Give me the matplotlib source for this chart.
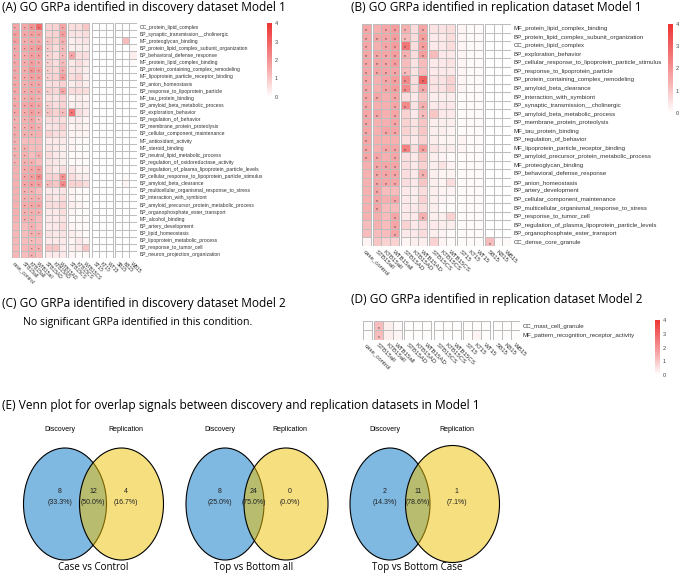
"""GO GRPa heatmaps (discovery / replication) + Venn overlap panels."""

import numpy as np
import matplotlib
matplotlib.use("Agg")
import matplotlib.pyplot as plt
from matplotlib.colors import LinearSegmentedColormap, Normalize
from matplotlib.cm import ScalarMappable
from matplotlib.patches import Ellipse

plt.rcParams["font.family"] = ["Liberation Sans", "DejaVu Sans"]

W, H = 679, 576
TITLE_FONT = ["Open Sans", "DejaVu Sans"]
CMAP = LinearSegmentedColormap.from_list(
    "wr", [(0, "#FFFFFF"), (0.35, "#F7B0B0"), (1, "#EE3333")])
GRID = "#BDBDBD"

# ---- data ----
COLS = ["case_control", "STB15all", "KTB15all", "WTB15all", "STB15AD", "KTB15AD",
        "WTB15AD", "STB15CS", "KTB15CS", "WTB15CS", "ST15", "KT15", "WT15",
        "SB15", "KB15", "WB15"]
GROUPS = [1, 3, 3, 3, 3, 3]

A_ROWS = [
    "CC_protein_lipid_complex", "BP_synaptic_transmission__cholinergic",
    "MF_proteoglycan_binding", "BP_protein_lipid_complex_subunit_organization",
    "BP_behavioral_defense_response", "MF_protein_lipid_complex_binding",
    "BP_protein_containing_complex_remodeling", "MF_lipoprotein_particle_receptor_binding",
    "BP_anion_homeostasis", "BP_response_to_lipoprotein_particle",
    "MF_tau_protein_binding", "BP_amyloid_beta_metabolic_process",
    "BP_exploration_behavior", "BP_regulation_of_behavior",
    "BP_membrane_protein_proteolysis", "BP_cellular_component_maintenance",
    "MF_antioxidant_activity", "MF_steroid_binding",
    "BP_neutral_lipid_metabolic_process", "BP_regulation_of_oxidoreductase_activity",
    "BP_regulation_of_plasma_lipoprotein_particle_levels",
    "BP_cellular_response_to_lipoprotein_particle_stimulus",
    "BP_amyloid_beta_clearance", "BP_multicellular_organismal_response_to_stress",
    "BP_interaction_with_symbiont", "BP_amyloid_precursor_protein_metabolic_process",
    "BP_organophosphate_ester_transport", "MF_alcohol_binding",
    "BP_artery_development", "BP_lipid_homeostasis",
    "BP_lipoprotein_metabolic_process", "BP_response_to_tumor_cell",
    "BP_neuron_projection_organization",
]
A_VALS = [
    [1.6, 1.6, 2.0, 2.8, 0.8, 0.8, 1.6, 0.6, 0.6, 1.0, 0, 0, 0, 0, 0, 0],
    [1.8, 1.6, 1.8, 1.8, 0.8, 0.8, 1.8, 0.5, 0.5, 0.6, 0, 0, 0, 0, 0, 0],
    [1.8, 1.5, 1.6, 1.6, 1.0, 0.8, 1.4, 0.3, 0.4, 0.5, 0, 0, 0, 0, 1.2, 0],
    [1.6, 1.6, 1.8, 2.0, 0.9, 0.6, 1.2, 0.3, 0.3, 0.3, 0, 0, 0, 0, 0, 0.1],
    [1.6, 1.5, 1.8, 1.8, 0.8, 0.6, 1.2, 1.6, 0.6, 0.6, 0, 0, 0, 0, 0, 0.3],
    [1.6, 1.5, 1.8, 1.6, 0.8, 0.6, 1.2, 0.4, 0.6, 0.4, 0, 0, 0, 0, 0, 0.1],
    [1.6, 1.5, 2.0, 1.8, 0.8, 0.7, 1.4, 0.5, 0.5, 0.3, 0, 0, 0, 0, 0, 0],
    [1.6, 1.5, 1.8, 1.8, 0.8, 0.8, 1.8, 0.6, 0.8, 0.3, 0, 0, 0, 0, 0, 0],
    [1.6, 1.4, 1.6, 1.6, 0.6, 0.6, 0.8, 0.3, 0.5, 0.3, 0, 0, 0, 0, 0, 0],
    [1.6, 1.5, 1.6, 1.6, 0.8, 0.7, 1.6, 0.6, 0.6, 0.6, 0, 0, 0, 0, 0, 0],
    [1.5, 1.4, 1.6, 1.4, 0.6, 0.5, 0.8, 0.2, 0.3, 0.2, 0, 0, 0, 0, 0, 0],
    [1.6, 1.6, 1.8, 1.6, 0.8, 0.6, 0.8, 0.3, 0.3, 0.3, 0, 0, 0, 0, 0, 0],
    [1.6, 1.5, 1.8, 1.6, 1.0, 0.8, 1.2, 2.6, 0.6, 0.4, 0, 0, 0, 0, 0, 0],
    [1.4, 1.4, 1.6, 1.2, 0.6, 0.6, 0.6, 0.3, 0.3, 0.2, 0, 0, 0, 0, 0, 0],
    [1.5, 1.4, 1.6, 1.4, 0.5, 0.5, 0.8, 0.2, 0.3, 0.2, 0, 0, 0, 0, 0, 0],
    [1.5, 1.4, 1.4, 1.4, 0.8, 0.6, 0.6, 0.2, 0.2, 0.2, 0, 0, 0, 0, 0, 0],
    [1.4, 1.2, 1.2, 1.2, 0.4, 0.4, 0.4, 0.2, 0.1, 0.1, 0, 0, 0, 0, 0, 0],
    [1.4, 1.4, 1.2, 1.2, 0.5, 0.4, 0.3, 0.2, 0.1, 0.1, 0, 0, 0, 0, 0, 0],
    [1.4, 1.4, 1.2, 1.4, 0.6, 0.4, 0.3, 0.1, 0.1, 0.1, 0, 0, 0, 0, 0, 0],
    [1.4, 1.4, 1.4, 1.2, 0.5, 0.4, 0.3, 0.1, 0.1, 0.1, 0, 0, 0, 0, 0, 0],
    [1.4, 1.5, 1.6, 1.8, 0.6, 0.4, 0.6, 0.4, 0.2, 0.2, 0, 0, 0, 0, 0, 0],
    [1.4, 1.6, 1.8, 2.2, 0.8, 0.8, 2.0, 0.6, 0.4, 0.3, 0, 0, 0, 0, 0.1, 0],
    [1.4, 1.6, 1.8, 1.8, 1.2, 1.0, 2.2, 0.8, 0.8, 0.6, 0, 0, 0, 0, 0.2, 0],
    [1.4, 1.4, 1.4, 1.2, 0.4, 0.4, 0.5, 0.2, 0.1, 0.1, 0, 0, 0, 0, 0, 0],
    [1.4, 1.4, 1.4, 1.4, 0.6, 0.4, 0.6, 0.2, 0.1, 0.1, 0, 0, 0, 0, 0, 0],
    [1.4, 1.5, 1.6, 1.6, 0.6, 0.6, 0.8, 0.3, 0.2, 0.1, 0, 0, 0, 0, 0, 0],
    [1.4, 1.4, 1.4, 1.4, 0.4, 0.4, 0.6, 0.2, 0.1, 0.1, 0, 0, 0, 0, 0, 0],
    [1.4, 1.4, 1.4, 1.2, 0.4, 0.4, 0.5, 0.1, 0.1, 0.1, 0, 0, 0, 0, 0, 0],
    [1.3, 1.2, 1.4, 1.2, 0.4, 0.4, 0.6, 0.2, 0.1, 0.1, 0, 0, 0, 0, 0, 0],
    [1.3, 1.2, 1.4, 1.4, 0.5, 0.4, 0.5, 0.3, 0.2, 0.1, 0, 0, 0, 0, 0, 0],
    [1.3, 1.2, 1.2, 1.2, 0.4, 0.4, 0.4, 0.2, 0.4, 0.2, 0, 0, 0, 0, 0, 0],
    [1.3, 1.3, 1.4, 1.4, 1.0, 1.0, 0.4, 0.3, 0.4, 1.0, 0, 0, 0, 0, 0, 0],
    [1.3, 1.2, 1.4, 1.2, 0.4, 0.4, 0.4, 0.2, 0.1, 0.1, 0, 0, 0, 0, 0, 0],
]
# '*' marks significant cells, one char per column (short strings = rest blank)
A_STARS = [
    "****..*", "****..*", "*****.*", "*****.*", "*****.**", "*****.*",
    "*****.*", "*****.*", "****", "*****.*", "****", "*****", "*****.**",
    "****", "****", "***", "*", "**", "**.*", "***", ".***", ".***..*",
    ".****.*", ".**", ".***", ".***", ".***", ".**", "..*", "..**", "..*",
    "..**", "..*",
]

B_ROWS = [
    "MF_protein_lipid_complex_binding", "BP_protein_lipid_complex_subunit_organization",
    "CC_protein_lipid_complex", "BP_exploration_behavior",
    "BP_cellular_response_to_lipoprotein_particle_stimulus",
    "BP_response_to_lipoprotein_particle", "BP_protein_containing_complex_remodeling",
    "BP_amyloid_beta_clearance", "BP_interaction_with_symbiont",
    "BP_synaptic_transmission__cholinergic", "BP_amyloid_beta_metabolic_process",
    "BP_membrane_protein_proteolysis", "MF_tau_protein_binding",
    "BP_regulation_of_behavior", "MF_lipoprotein_particle_receptor_binding",
    "BP_amyloid_precursor_protein_metabolic_process", "MF_proteoglycan_binding",
    "BP_behavioral_defense_response", "BP_anion_homeostasis",
    "BP_artery_development", "BP_cellular_component_maintenance",
    "BP_multicellular_organismal_response_to_stress", "BP_response_to_tumor_cell",
    "BP_regulation_of_plasma_lipoprotein_particle_levels",
    "BP_organophosphate_ester_transport", "CC_dense_core_granule",
]
B_VALS = [
    [1.6, 1.4, 1.6, 1.8, 1.4, 0.6, 1.6, 0.5, 0.5, 0.6, 0.2, 0.1, 0.1, 0, 0, 0],
    [1.6, 1.6, 1.6, 1.8, 1.2, 0.6, 1.8, 0.4, 0.4, 0.6, 0.2, 0.1, 0.1, 0, 0, 0],
    [1.6, 1.4, 1.6, 1.8, 2.6, 0.6, 1.8, 0.4, 0.4, 0.6, 0.2, 0.1, 0.1, 0, 0, 0],
    [1.6, 1.6, 1.6, 1.8, 1.4, 0.6, 1.8, 1.2, 0.4, 0.4, 0.2, 0.1, 0.1, 0, 0, 0],
    [1.6, 1.6, 1.6, 1.8, 1.2, 0.5, 1.2, 0.4, 0.4, 0.5, 0.2, 0.1, 0.1, 0, 0, 0],
    [1.6, 1.6, 1.6, 1.6, 1.2, 0.5, 1.2, 0.4, 0.4, 0.4, 0.2, 0.1, 0.1, 0, 0, 0],
    [1.6, 1.4, 1.6, 1.8, 2.2, 0.6, 3.0, 0.5, 0.5, 0.8, 0.2, 0.1, 0.1, 0, 0, 0],
    [1.6, 1.4, 1.6, 1.8, 2.2, 0.6, 1.6, 0.5, 0.5, 0.8, 0.2, 0.1, 0.1, 0, 0, 0],
    [1.6, 1.6, 1.4, 1.6, 0.6, 0.4, 1.0, 0.3, 0.3, 0.3, 0.1, 0.1, 0.1, 0, 0, 0],
    [1.6, 1.4, 1.4, 1.6, 2.2, 0.5, 1.4, 0.4, 0.4, 0.4, 0.1, 0.1, 0.1, 0, 0, 0],
    [1.6, 1.6, 1.4, 1.6, 0.8, 0.4, 1.2, 1.0, 0.4, 0.4, 0.1, 0.1, 0.1, 0, 0, 0],
    [1.6, 1.4, 1.4, 1.6, 0.8, 0.5, 1.0, 0.3, 0.3, 0.3, 0.1, 0.1, 0.1, 0, 0, 0],
    [1.6, 1.4, 1.6, 1.6, 0.8, 0.5, 1.0, 0.3, 0.3, 0.2, 0.1, 0.1, 0.1, 0, 0, 0],
    [1.6, 1.4, 1.4, 1.4, 0.6, 0.4, 0.8, 0.3, 0.2, 0.2, 0.2, 0.1, 0.1, 0, 0, 0],
    [1.6, 1.4, 1.6, 1.6, 2.4, 0.6, 1.8, 0.5, 0.3, 0.3, 0.2, 0.1, 0.1, 0, 0, 0],
    [1.6, 1.6, 1.4, 1.6, 0.6, 0.4, 1.0, 0.3, 0.2, 0.1, 0.1, 0.1, 0.1, 0, 0, 0],
    [1.4, 1.6, 1.6, 1.6, 0.6, 0.4, 0.8, 0.3, 0.5, 0.2, 0.1, 0.1, 0.1, 0, 0, 0],
    [1.4, 1.6, 1.6, 1.6, 0.6, 0.4, 1.4, 0.3, 0.2, 0.2, 0.1, 0.1, 0.1, 0, 0, 0],
    [1.4, 1.6, 1.6, 1.6, 0.6, 0.4, 1.0, 0.3, 0.2, 0.6, 0.1, 0.1, 0.1, 0, 0, 0],
    [1.4, 1.6, 1.2, 1.2, 0.4, 0.3, 0.6, 0.3, 0.2, 0.2, 0.1, 0.1, 0.1, 0, 0, 0],
    [1.4, 1.6, 1.4, 1.6, 0.4, 0.3, 0.8, 0.3, 0.2, 0.1, 0.1, 0.1, 0.1, 0, 0, 0],
    [1.4, 1.6, 1.2, 1.2, 0.4, 0.4, 0.6, 0.3, 0.1, 0.1, 0.1, 0.1, 0.1, 0, 0, 0],
    [1.4, 1.4, 1.2, 1.6, 0.4, 0.4, 1.4, 0.3, 0.3, 0.8, 0.1, 0.1, 0.1, 0, 0, 0],
    [1.2, 1.4, 1.2, 1.6, 0.8, 0.4, 0.6, 0.4, 0.3, 0.3, 0.1, 0.1, 0.1, 0, 0, 0],
    [1.2, 1.2, 1.2, 1.6, 0.4, 0.4, 0.6, 0.3, 0.2, 0.1, 0.1, 0.1, 0.1, 0, 0, 0],
    [0.2, 1.0, 0.8, 0.8, 0.2, 0.3, 0.3, 0.8, 0.2, 0.1, 0.1, 0.1, 0.1, 1.2, 0.1, 0.1],
]
B_STARS = [
    "*.***.*", "*****.*", "*.***.*", "*****.*", "****", "*****", "*.***.*",
    "*.***.*", "**.*", "*..**.*", "**.*..*", "*..*", "*.**", "*", "*.***.*",
    "**.*", ".***", ".***..*", ".***", ".*", ".*.*", ".*", "...*..*", "...*",
    "...*", ".............*",
]

D_ROWS = ["CC_mast_cell_granule", "MF_pattern_recognition_receptor_activity"]
D_VALS = [
    [0.05, 1.2, 0.3, 0.1, 0.05, 0.05, 0.05, 0.05, 0.05, 0.05, 0.05, 0.05, 0.05, 0.05, 0.05, 0.05],
    [0.05, 1.2, 0.3, 0.2, 0.05, 0.05, 0.05, 0.05, 0.05, 0.05, 0.05, 0.2, 0.05, 0.05, 0.05, 0.05],
]
D_STARS = [".*", ".*"]

VENN_NAMES = ["Case vs Control", "Top vs Bottom all", "Top vs Bottom Case"]
DISC_ONLY = [8, 8, 2]
SHARED = [12, 24, 11]
REP_ONLY = [4, 0, 1]


def px_box(x0, y0, x1, y1):
    return [x0 / W, 1 - y1 / H, (x1 - x0) / W, (y1 - y0) / H]


def heat(ax, rows, vals, stars, gap, fs):
    vals = np.asarray(vals, float)
    nr = len(rows)
    grp = np.repeat(np.arange(len(GROUPS)), GROUPS)
    left = np.arange(len(COLS)) + grp * gap
    start = 0
    for g, n in enumerate(GROUPS):
        xe = np.arange(start, start + n + 1) + g * gap
        ax.pcolormesh(xe, np.arange(nr + 1), vals[:, start:start + n], cmap=CMAP,
                      vmin=0, vmax=4, edgecolors=GRID, linewidth=0.6)
        start += n
    for i, s in enumerate(stars):
        for j, c in enumerate(s):
            if c == "*":
                ax.text(left[j] + 0.5, i + 0.78, "*", ha="center", va="center",
                        fontsize=fs * 0.8, color="#333333")
    ax.set_xlim(0, left[-1] + 1)
    ax.set_ylim(nr, 0)
    ax.set_xticks(left + 0.5)
    ax.set_xticklabels(COLS, rotation=-45, ha="left", va="top",
                       rotation_mode="anchor", fontsize=fs)
    ax.set_yticks(np.arange(nr) + 0.5)
    ax.set_yticklabels(rows, fontsize=fs)
    ax.yaxis.tick_right()
    ax.tick_params(length=0, pad=2, colors="#333333")
    for sp in ax.spines.values():
        sp.set_visible(False)


def cbar(box):
    cax = fig.add_axes(px_box(*box))
    cb = fig.colorbar(ScalarMappable(Normalize(0, 4), CMAP), cax=cax)
    cb.outline.set_visible(False)
    cb.set_ticks([0, 1, 2, 3, 4])
    cax.tick_params(length=0, labelsize=4, colors="#444444", pad=2)


fig = plt.figure(figsize=(W / 100, H / 100), dpi=100)

# titles
TS = 8.6
fig.text(2 / W, 1 - 8 / H, "(A) GO GRPa identified in discovery dataset Model 1",
         fontsize=TS, va="center", family=TITLE_FONT)
fig.text(351 / W, 1 - 7 / H, "(B) GO GRPa identified in replication dataset Model 1",
         fontsize=TS, va="center", family=TITLE_FONT)
fig.text(2 / W, 1 - 304 / H, "(C) GO GRPa identified in discovery dataset Model 2",
         fontsize=TS, va="center", family=TITLE_FONT)
fig.text(23 / W, 1 - 323 / H, "No significant GRPa identified in this condition.",
         fontsize=7.6, va="center", family=TITLE_FONT)
fig.text(351 / W, 1 - 300 / H, "(D) GO GRPa identified in replication dataset Model 2",
         fontsize=TS, va="center", family=TITLE_FONT)
fig.text(2 / W, 1 - 406 / H,
         "(E) Venn plot for overlap signals between discovery and replication datasets in Model 1",
         fontsize=TS, va="center", family=TITLE_FONT)

# heatmaps
axA = fig.add_axes(px_box(11.5, 23, 136.5, 258))
heat(axA, A_ROWS, A_VALS, A_STARS, 0.33, 3.6)
cbar((267, 23, 272, 97))

axB = fig.add_axes(px_box(362, 24, 511, 246))
heat(axB, B_ROWS, B_VALS, B_STARS, 0.27, 4.4)
cbar((668, 24, 673, 113))

axD = fig.add_axes(px_box(363, 321, 520, 339.5))
heat(axD, D_ROWS, D_VALS, D_STARS, 0.25, 4.4)
cbar((655, 320, 660, 375))

# venn diagrams (pixel-like coordinates)
axV = fig.add_axes(px_box(0, 415, W, H))
axV.set_xlim(0, W)
axV.set_ylim(H, 415)
axV.axis("off")
blue_c = [65, 225, 390]
blue_w = [41.5, 39, 40]
yel_c = [121.5, 286, 452.5]
yel_w = [42, 42, 47]
cy = 504
for k in range(3):
    axV.add_patch(Ellipse((blue_c[k], cy), 2 * blue_w[k], 112,
                          facecolor=(0, 0.451, 0.761, 0.5), edgecolor="black", lw=0.8))
    axV.add_patch(Ellipse((yel_c[k], cy), 2 * yel_w[k], 112 + (yel_w[k] - 42),
                          facecolor=(0.937, 0.753, 0, 0.5), edgecolor="black", lw=0.8))
    total = DISC_ONLY[k] + SHARED[k] + REP_ONLY[k]
    mid = (yel_c[k] - yel_w[k] + blue_c[k] + blue_w[k]) / 2
    for x, n in [(blue_c[k] - 5, DISC_ONLY[k]), (mid, SHARED[k]), (yel_c[k] + 4, REP_ONLY[k])]:
        axV.text(x, 492, str(n), ha="center", va="center", fontsize=5, color="#222222")
        axV.text(x, 503, f"({100 * n / total:.1f}%)", ha="center", va="center",
                 fontsize=5, color="#222222")
    axV.text(blue_c[k] - 5, 430, "Discovery", ha="center", va="center", fontsize=5)
    axV.text(yel_c[k] + 4, 430, "Replication", ha="center", va="center", fontsize=5)
    axV.text(mid, 568, VENN_NAMES[k], ha="center", va="center", fontsize=7.0,
             family=TITLE_FONT)

fig.savefig("out.png", dpi=100)
